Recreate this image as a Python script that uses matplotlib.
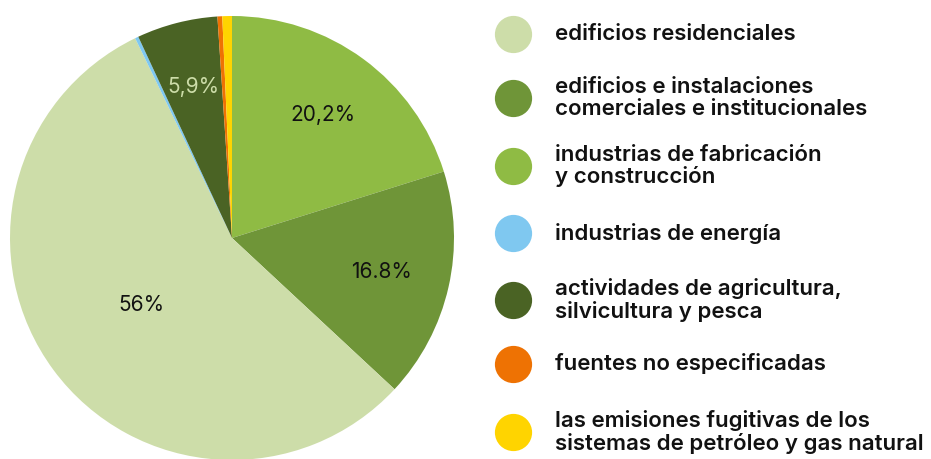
import matplotlib
matplotlib.use("Agg")
import matplotlib.pyplot as plt
import numpy as np

# Data (clockwise from top)
categories = [
    "industrias de fabricación\ny construcción",
    "edificios e instalaciones\ncomerciales e institucionales",
    "edificios residenciales",
    "industrias de energía",
    "actividades de agricultura,\nsilvicultura y pesca",
    "fuentes no especificadas",
    "las emisiones fugitivas de los\nsistemas de petróleo y gas natural",
]
values = [20.2, 16.8, 56.0, 0.25, 5.9, 0.35, 0.7]
pct_labels = ["20,2%", "16.8%", "56%", "", "5,9%", "", ""]
colors = ["#8fbb44", "#6f9538", "#cddda9", "#7fc8f0", "#4a6324", "#ee7203", "#ffd400"]

# Legend order
legend_order = [2, 1, 0, 3, 4, 5, 6]

plt.rcParams['font.family'] = ['Inter', 'DejaVu Sans']

W, H = 931, 459
fig = plt.figure(figsize=(W / 100, H / 100), dpi=100)
ax = fig.add_axes([0, 0, 1, 1])

cx, cy, R = 232, H - 238, 222
wedges, _ = ax.pie(values, colors=colors, startangle=90, counterclock=False,
                   center=(cx, cy), radius=R,
                   wedgeprops=dict(linewidth=0))

label_dist = [0.69, 0.69, 0.51, 0, 0.70, 0, 0]
label_colors = ["#111111", "#111111", "#111111", "#111111", "#cddda9", "#111111", "#111111"]
for w, lab, d, c in zip(wedges, pct_labels, label_dist, label_colors):
    if not lab:
        continue
    ang = np.deg2rad((w.theta1 + w.theta2) / 2)
    ax.text(cx + d * R * np.cos(ang), cy + d * R * np.sin(ang), lab,
            ha="center", va="center", fontsize=15, color=c)

# Legend
legend_y = [34, 98, 166, 233, 300, 364, 432]
for i, yy in zip(legend_order, legend_y):
    ax.scatter([513], [H - yy], s=np.pi * 21 ** 2 * (72 / 100) ** 2, color=colors[i],
               linewidths=0, zorder=3)
    ax.text(555, H - yy, categories[i], ha="left", va="center", fontsize=16,
            fontweight="semibold", color="#111111", linespacing=1.1)

ax.set_xlim(0, W)
ax.set_ylim(0, H)
ax.set_aspect("equal")
ax.axis("off")

fig.savefig("out.png", dpi=100)
